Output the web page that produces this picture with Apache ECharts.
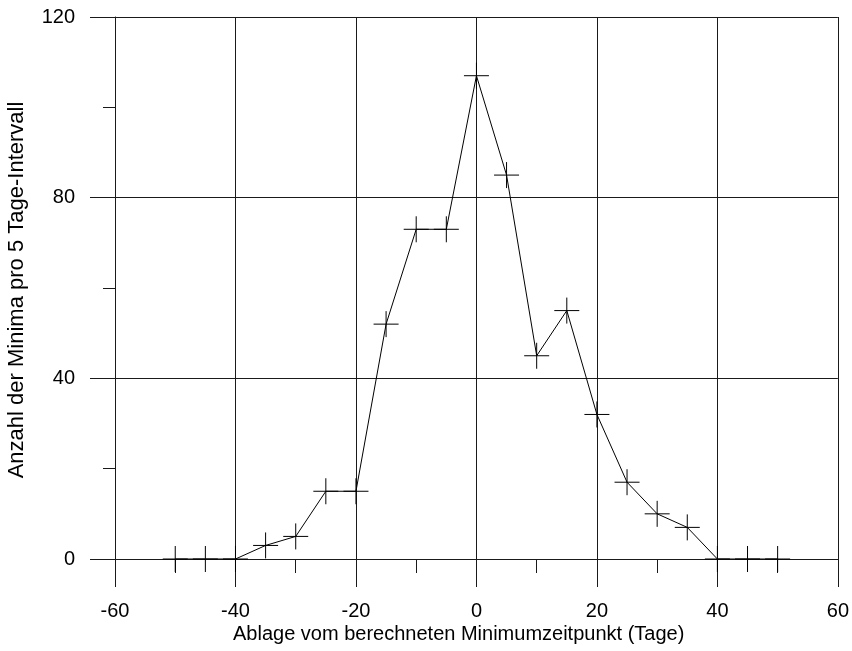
<!DOCTYPE html>
<html>
<head>
<meta charset="utf-8">
<script src="https://cdn.jsdelivr.net/npm/echarts@6/dist/echarts.min.js"></script>
<style>html,body{margin:0;padding:0;background:#fff;}#c{width:852px;height:651px;}</style>
</head>
<body>
<div id="c"></div>
<script>
var xValues = [-50, -45, -40, -35, -30, -25, -20, -15, -10, -5, 0, 5, 10, 15, 20, 25, 30, 35, 40, 45, 50];
var counts  = [0, 0, 0, 3, 5, 15, 15, 52, 73, 73, 107, 85, 45, 55, 32, 17, 10, 7, 0, 0, 0];
var xTitle = 'Ablage vom berechneten Minimumzeitpunkt (Tage)';
var yTitle = 'Anzahl der Minima pro 5 Tage-Intervall';

var FONT = 'Arial, "Liberation Sans", sans-serif';
var LC = '#1a1a1a';
var pts = xValues.map(function (x, i) { return [x, counts[i]]; });

var chart = echarts.init(document.getElementById('c'), null, {renderer: 'canvas'});
chart.setOption({
  animation: false,
  backgroundColor: '#fff',
  grid: {left: 115, right: 14, top: 17, bottom: 92, containLabel: false},
  xAxis: {
    type: 'value', min: -60, max: 60, interval: 20,
    axisLine: {show: true, onZero: false, lineStyle: {color: LC, width: 1}},
    axisTick: {show: true, length: 28, inside: false, lineStyle: {color: LC, width: 1}},
    minorTick: {show: true, splitNumber: 2, length: 14, lineStyle: {color: LC, width: 1}},
    splitLine: {show: true, lineStyle: {color: LC, width: 1}},
    axisLabel: {color: '#000', fontSize: 20, fontFamily: FONT, margin: 42}
  },
  yAxis: {
    type: 'value', min: 0, max: 120, interval: 40,
    axisLine: {show: true, onZero: false, lineStyle: {color: LC, width: 1}},
    axisTick: {show: true, length: 25, inside: false, lineStyle: {color: LC, width: 1}},
    minorTick: {show: true, splitNumber: 2, length: 12, lineStyle: {color: LC, width: 1}},
    splitLine: {show: true, lineStyle: {color: LC, width: 1}},
    axisLabel: {color: '#000', fontSize: 20, fontFamily: FONT, margin: 40}
  },
  series: [
    {
      type: 'line', data: pts, symbol: 'none',
      lineStyle: {color: '#000', width: 1}, z: 3
    },
    {
      type: 'custom', data: pts, z: 4,
      renderItem: function (params, api) {
        var p = api.coord([api.value(0), api.value(1)]);
        var st = {stroke: '#000', lineWidth: 1};
        return {
          type: 'group',
          children: [
            {type: 'line', shape: {x1: p[0] - 12.5, y1: p[1], x2: p[0] + 12.5, y2: p[1]}, style: st},
            {type: 'line', shape: {x1: p[0], y1: p[1] - 13, x2: p[0], y2: p[1] + 13}, style: st}
          ]
        };
      }
    }
  ],
  graphic: [
    {
      type: 'text', left: 233, top: 624,
      style: {text: xTitle, fill: '#000', font: '20px ' + FONT}
    },
    {
      type: 'text', x: 17, y: 290, rotation: Math.PI / 2,
      style: {text: yTitle, fill: '#000', font: '22px ' + FONT, align: 'center', verticalAlign: 'middle'}
    }
  ]
});
</script>
</body>
</html>
